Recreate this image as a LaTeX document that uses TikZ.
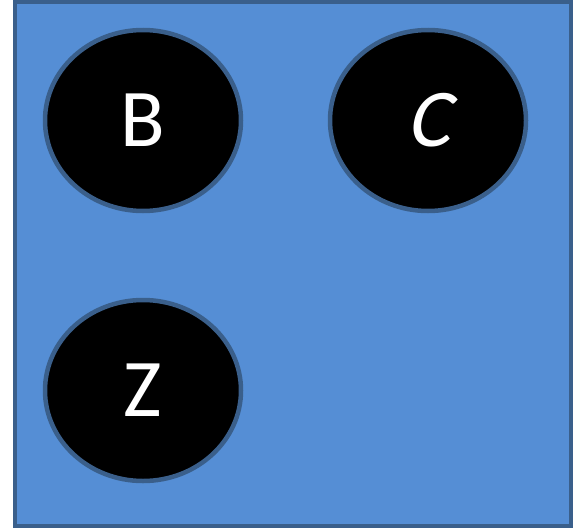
\documentclass[tikz,border=0pt]{standalone}
\usepackage{fontspec}
\setmainfont{Carlito}
\newfontfamily\slantfont[FakeSlant=0.22]{Carlito}
\definecolor{boxfill}{HTML}{558ED5}
\definecolor{boxline}{HTML}{3A5F8B}
\usetikzlibrary{shapes.geometric}
\tikzset{
  var/.style={ellipse, draw=boxline, line width=4.5pt, fill=black, text=white,
    minimum width=196pt, minimum height=181pt, inner sep=0pt,
    font=\fontsize{82}{82}\selectfont}
}
\begin{document}
\begin{tikzpicture}[x=1pt,y=-1pt]
\useasboundingbox (0,0) rectangle (577,530);
\node[draw=boxline, fill=boxfill, line width=4pt, minimum width=556pt, minimum height=524.5pt, inner sep=0pt] (frame) at (293,264) {};
\node[var] (B) at (143,120.5) {\raisebox{-2pt}{B}};
\node[var] (C) at (428,120.5) {\raisebox{-2pt}{\slantfont C}};
\node[var] (Z) at (143,390.5) {\raisebox{-2pt}{Z}};
\end{tikzpicture}
\end{document}
